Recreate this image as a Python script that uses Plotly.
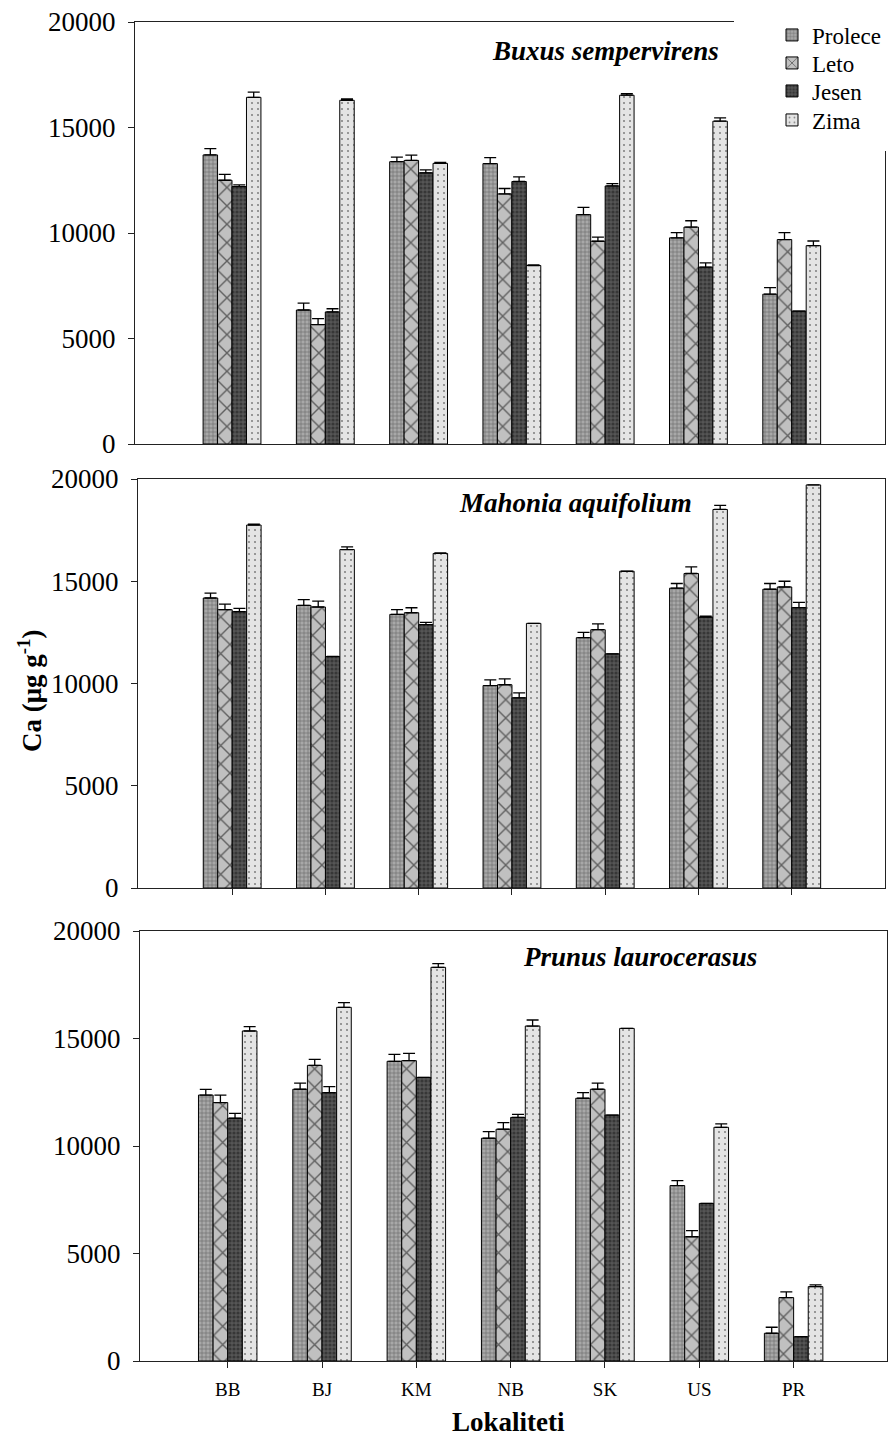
import plotly.graph_objects as go

# ---------------- data ----------------
locations = ["BB", "BJ", "KM", "NB", "SK", "US", "PR"]
seasons = ["Prolece", "Leto", "Jesen", "Zima"]
species = ["Buxus sempervirens", "Mahonia aquifolium", "Prunus laurocerasus"]
y_ticks = [0, 5000, 10000, 15000, 20000]

# Buxus sempervirens
buxus_prolece = [13700, 6350, 13380, 13290, 10870, 9770, 7100]
buxus_prolece_err = [300, 330, 220, 280, 340, 250, 310]
buxus_leto = [12500, 5660, 13440, 11850, 9610, 10280, 9690]
buxus_leto_err = [280, 280, 250, 260, 190, 300, 330]
buxus_jesen = [12200, 6260, 12850, 12440, 12230, 8380, 6300]
buxus_jesen_err = [80, 150, 140, 220, 110, 200, 0]
buxus_zima = [16430, 16290, 13300, 8460, 16530, 15300, 9400]
buxus_zima_err = [250, 60, 50, 30, 80, 160, 220]

# Mahonia aquifolium
mahonia_prolece = [14180, 13820, 13380, 9900, 12240, 14660, 14610]
mahonia_prolece_err = [240, 280, 230, 280, 260, 230, 280]
mahonia_leto = [13610, 13740, 13460, 9940, 12630, 15380, 14720]
mahonia_leto_err = [270, 290, 245, 290, 290, 320, 280]
mahonia_jesen = [13510, 11320, 12880, 9300, 11450, 13250, 13710]
mahonia_jesen_err = [160, 0, 110, 245, 0, 40, 260]
mahonia_zima = [17750, 16550, 16360, 12940, 15490, 18510, 19710]
mahonia_zima_err = [40, 130, 30, 0, 0, 200, 0]

# Prunus laurocerasus
prunus_prolece = [12370, 12640, 13940, 10360, 12220, 8160, 1290]
prunus_prolece_err = [265, 280, 325, 310, 260, 230, 280]
prunus_leto = [12020, 13750, 13970, 10780, 12640, 5780, 2950]
prunus_leto_err = [350, 280, 340, 310, 280, 280, 265]
prunus_jesen = [11290, 12480, 13190, 11330, 11440, 7330, 1130]
prunus_jesen_err = [230, 280, 0, 140, 0, 0, 0]
prunus_zima = [15350, 16450, 18310, 15580, 15470, 10870, 3460]
prunus_zima_err = [200, 215, 170, 280, 0, 155, 80]

panels = [
    [(buxus_prolece, buxus_prolece_err), (buxus_leto, buxus_leto_err),
     (buxus_jesen, buxus_jesen_err), (buxus_zima, buxus_zima_err)],
    [(mahonia_prolece, mahonia_prolece_err), (mahonia_leto, mahonia_leto_err),
     (mahonia_jesen, mahonia_jesen_err), (mahonia_zima, mahonia_zima_err)],
    [(prunus_prolece, prunus_prolece_err), (prunus_leto, prunus_leto_err),
     (prunus_jesen, prunus_jesen_err), (prunus_zima, prunus_zima_err)],
]

# ---------------- styling ----------------
W, H = 888, 1436
FONT = "Liberation Serif"
LINE = "#222222"

patterns = [
    dict(shape="+", size=4, solidity=0.3, fgcolor="#333333", bgcolor="#a8a8a8"),
    dict(shape="x", size=13, solidity=0.2, fgcolor="#000000", bgcolor="#c0c0c0"),
    dict(shape=".", size=4, solidity=0.5, fgcolor="#1a1a1a", bgcolor="#555555"),
    dict(shape=".", size=6, solidity=0.1, fgcolor="#222222", bgcolor="#e4e4e4"),
]
legend_names = ["legend", "legend2", "legend3", "legend4"]
legend_rows = [35, 63, 91, 120]   # row centres (px) of the legend entries


def px_x(v):
    return v / W


def px_y(v):
    return 1 - v / H


fig = go.Figure()
for p, series in enumerate(panels):
    suffix = "" if p == 0 else str(p + 1)
    for s, (vals, errs) in enumerate(series):
        fig.add_trace(go.Bar(
            x=locations, y=vals, name=seasons[s],
            xaxis="x" + suffix, yaxis="y" + suffix,
            legend=legend_names[s],
            legendgroup=seasons[s], showlegend=(p == 0),
            marker=dict(color=patterns[s]["bgcolor"], pattern=patterns[s],
                        line=dict(color="#000000", width=1)),
            error_y=dict(type="data", symmetric=False, array=errs,
                         arrayminus=[0] * len(errs), color="#000000",
                         thickness=1.3, width=6),
        ))

# panel geometry (pixel positions)
x_domains = [(135, 885), (138, 885), (140, 887)]
y_domains = [(444, 22), (888, 479), (1361, 931)]
x_ranges = [[-1.04, 7.0], [-1.01, 7.0], [-0.93, 6.99]]

layout = dict(
    width=W, height=H,
    margin=dict(l=0, r=0, t=0, b=0, autoexpand=False),
    paper_bgcolor="white", plot_bgcolor="white",
    barmode="group", bargap=0.38, bargroupgap=0.0,
    font=dict(family=FONT, color="#000000"),
    showlegend=True,
)
for s, lname in enumerate(legend_names):
    layout[lname] = dict(
        x=px_x(772), y=px_y(legend_rows[s]), xanchor="left", yanchor="middle",
        font=dict(family=FONT, size=23, color="#000000"),
        bgcolor="rgba(255,255,255,0)", itemclick=False, itemdoubleclick=False,
    )

for p in range(3):
    suffix = "" if p == 0 else str(p + 1)
    layout["xaxis" + suffix] = dict(
        type="category", domain=[px_x(x_domains[p][0]), px_x(x_domains[p][1])],
        range=x_ranges[p], anchor="y" + suffix, automargin=False,
        showline=True, linecolor=LINE, linewidth=1.3, mirror=True,
        ticks="" if p == 0 else "outside", ticklen=6, tickwidth=1.2, tickcolor=LINE,
        showticklabels=(p == 2), showgrid=False, zeroline=False,
        tickfont=dict(family=FONT, size=19, color="#000000"),
        ticklabelstandoff=5,
    )
    layout["yaxis" + suffix] = dict(
        domain=[px_y(y_domains[p][0]), px_y(y_domains[p][1])],
        range=[0, 20000], anchor="x" + suffix, automargin=False,
        tickmode="array", tickvals=y_ticks, ticktext=[str(t) for t in y_ticks],
        showline=True, linecolor=LINE, linewidth=1.3, mirror=True,
        ticks="outside", ticklen=6, tickwidth=1.2, tickcolor=LINE,
        showgrid=False, zeroline=False,
        tickfont=dict(family=FONT, size=27, color="#000000"),
        ticklabelstandoff=7,
    )

fig.update_layout(**layout)

title_pos = [(605, 51), (575, 503), (640, 957)]
annotations = []
for p in range(3):
    annotations.append(dict(
        text="<b><i>%s</i></b>" % species[p], xref="paper", yref="paper",
        x=px_x(title_pos[p][0]), y=px_y(title_pos[p][1]),
        xanchor="center", yanchor="middle", showarrow=False,
        font=dict(family=FONT, size=27, color="#000000"),
    ))
annotations.append(dict(
    text="<b>Ca (μg g<sup>-1</sup>)</b>", xref="paper", yref="paper",
    x=px_x(30), y=px_y(691), xanchor="center", yanchor="middle",
    textangle=-90, showarrow=False,
    font=dict(family=FONT, size=27, color="#000000"),
))
annotations.append(dict(
    text="<b>Lokaliteti</b>", xref="paper", yref="paper",
    x=px_x(508), y=px_y(1422), xanchor="center", yanchor="middle",
    showarrow=False, font=dict(family=FONT, size=27, color="#000000"),
))
fig.update_layout(annotations=annotations)

# white area behind the legend that interrupts the top panel frame
fig.add_shape(type="rect", xref="paper", yref="paper",
              x0=px_x(734), x1=1.0, y0=px_y(151), y1=1.0,
              fillcolor="white", line=dict(width=0), layer="above")

fig.write_html("out.html")
